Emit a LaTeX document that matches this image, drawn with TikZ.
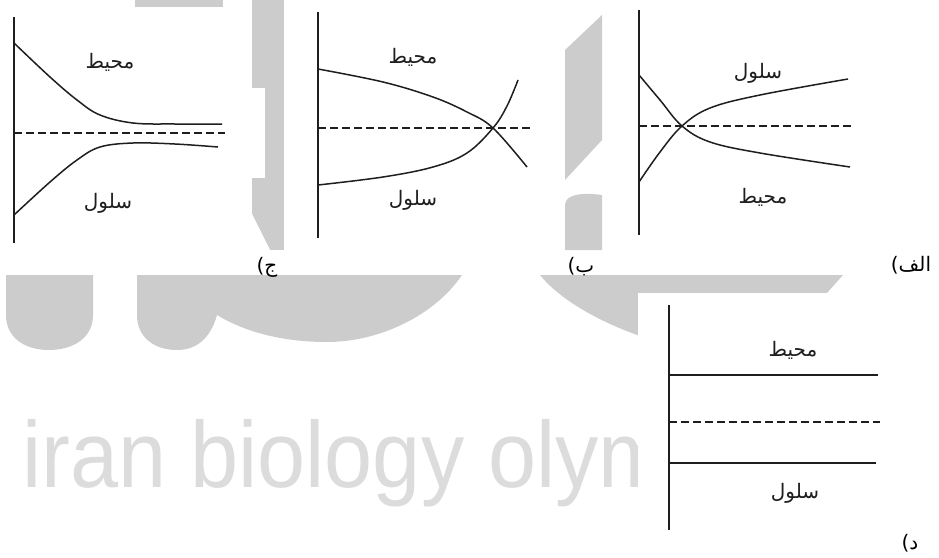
\documentclass[tikz,border=0pt]{standalone}
\usepackage{fontspec}
\usepackage{graphicx}
\TeXXeTstate=1
\newfontfamily\arabicfont[Script=Arabic]{DejaVu Sans}
\newfontfamily\latinfont{DejaVu Sans}
\newfontfamily\wmfont{Liberation Sans}
\definecolor{wmgray}{HTML}{CCCCCC}
\definecolor{wmtext}{HTML}{DCDCDC}
\definecolor{ink}{HTML}{1E1E1E}
\tikzset{
  axisline/.style={line width=1.8pt, ink},
  curveline/.style={line width=1.5pt, ink},
  dashline/.style={line width=1.5pt, ink, dash pattern=on 7.5pt off 4.5pt},
  inlabel/.style={font=\arabicfont\fontsize{20}{24}\selectfont, inner sep=0pt, text=ink},
  panellabel/.style={font=\arabicfont\fontsize{20}{24}\selectfont, inner sep=0pt, text=black},
  wmshape/.style={fill=wmgray},
  paper/.style={fill=white},
}
\begin{document}
\begin{tikzpicture}[x=1pt,y=-1pt]
\useasboundingbox (0,0) rectangle (939,557);
% ---------- watermark ----------
\node[anchor=base west, inner sep=0pt, text=wmtext, font=\wmfont\fontsize{94}{100}\selectfont] (wm) at (22,487) {\scalebox{0.92}[1]{iran biology olym}};
\fill[wmshape] (135,0) rectangle (223,7);
\fill[wmshape] (252,0) rectangle (284,250);
\fill[paper] (252,88) rectangle (265,178);
\fill[wmshape] (268,195) circle (16pt);
\fill[paper] (252,214) -- (270,250) -- (252,250) -- cycle;
\fill[wmshape] (565,50) -- (602,15) -- (602,140) -- (565,180) -- cycle;
\fill[wmshape] (565,250) -- (565,205) .. controls (565,195) and (580,192) .. (602,195) -- (602,250) -- cycle;
\fill[wmshape] (6,275) -- (6,315) .. controls (6,338) and (25,350) .. (49,350) .. controls (73,350) and (93,338) .. (93,315) -- (93,275) -- cycle;
\fill[wmshape] (137,275) -- (137,315) .. controls (137,338) and (155,350) .. (177,350) .. controls (195,350) and (210,340) .. (217,315) .. controls (250,335) and (290,342) .. (327,342) .. controls (380,342) and (435,315) .. (462,275) -- cycle;
\fill[wmshape] (540,275) .. controls (560,300) and (600,322) .. (640,336) -- (640,293) -- (827,293) -- (843,275) -- cycle;
% panel d paper covers the watermark text
\fill[paper] (638,293) rectangle (939,557);
% ---------- panel j (left) ----------
\coordinate (jTop) at (14,17);  \coordinate (jBot) at (14,243);
\coordinate (jD0) at (14,133);  \coordinate (jD1) at (225,133);
\draw[axisline] (jTop) -- (jBot);
\draw[dashline] (jD0) -- (jD1);
\draw[curveline] plot[smooth, tension=0.6] coordinates {(14,43) (50,77) (77,100) (100,115) (133,123) (175,124) (222,124)};
\draw[curveline] plot[smooth, tension=0.6] coordinates {(14,215) (50,182) (77,160) (100,147) (133,143) (175,144) (218,147)};
\node[inlabel] (jEnv) at (110,62) {\beginR محیط\endR};
\node[inlabel] (jCell) at (108,203) {\beginR سلول\endR};
\node[panellabel] (jLab) at (267,267) {{\latinfont(}ج};
% ---------- panel b (middle) ----------
\coordinate (bTop) at (318,12);  \coordinate (bBot) at (318,238);
\coordinate (bD0) at (318,128);  \coordinate (bD1) at (530,128);
\draw[axisline] (bTop) -- (bBot);
\draw[dashline] (bD0) -- (bD1);
\draw[curveline] plot[smooth, tension=0.6] coordinates {(318,69) (383,82) (433,97) (467,112) (493,128) (527,167)};
\draw[curveline] plot[smooth, tension=0.6] coordinates {(318,185) (383,177) (433,167) (467,153) (493,128) (507,106) (518,80)};
\node[inlabel] (bEnv) at (413,57) {\beginR محیط\endR};
\node[inlabel] (bCell) at (413,200) {\beginR سلول\endR};
\node[panellabel] (bLab) at (581,267) {{\latinfont(}ب};
% ---------- panel alef (right) ----------
\coordinate (aTop) at (639,10);  \coordinate (aBot) at (639,235);
\coordinate (aD0) at (639,126);  \coordinate (aD1) at (855,126);
\draw[axisline] (aTop) -- (aBot);
\draw[dashline] (aD0) -- (aD1);
\draw[curveline] plot[smooth, tension=0.6] coordinates {(639,75) (660,100) (682,126) (710,142) (760,153) (850,167)};
\draw[curveline] plot[smooth, tension=0.6] coordinates {(639,182) (660,152) (682,126) (710,108) (760,95) (848,79)};
\node[inlabel] (aCell) at (758,73) {\beginR سلول\endR};
\node[inlabel] (aEnv) at (763,197) {\beginR محیط\endR};
\node[panellabel] (aLab) at (911,265) {{\latinfont(}الف};
% ---------- panel d (bottom) ----------
\coordinate (dTop) at (669,305);  \coordinate (dBot) at (669,530);
\coordinate (dU0) at (669,375);   \coordinate (dU1) at (878,375);
\coordinate (dD0) at (669,422);   \coordinate (dD1) at (880,422);
\coordinate (dL0) at (669,463);   \coordinate (dL1) at (876,463);
\draw[axisline] (dTop) -- (dBot);
\draw[curveline] (dU0) -- (dU1);
\draw[dashline] (dD0) -- (dD1);
\draw[curveline] (dL0) -- (dL1);
\node[inlabel] (dEnv) at (793,350) {\beginR محیط\endR};
\node[inlabel] (dCell) at (795,493) {\beginR سلول\endR};
\node[panellabel] (dLab) at (910,543) {{\latinfont(}د};
\end{tikzpicture}
\end{document}
